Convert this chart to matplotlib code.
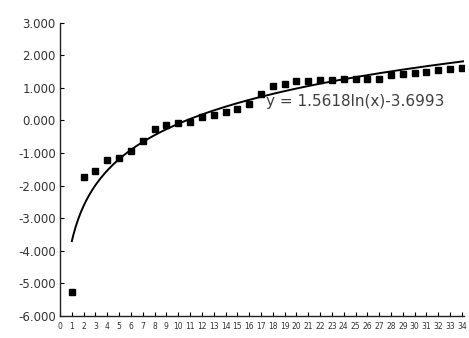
import numpy as np
import matplotlib
matplotlib.use("Agg")
import matplotlib.pyplot as plt

x_vals = list(range(1, 35))
y_vals = [-5.25, -1.72, -1.55, -1.2, -1.15, -0.95, -0.62, -0.26, -0.15, -0.08,
          -0.05, 0.1, 0.17, 0.25, 0.35, 0.5, 0.82, 1.05, 1.13, 1.2,
          1.22, 1.23, 1.25, 1.27, 1.26, 1.26, 1.27, 1.4, 1.43, 1.47,
          1.5, 1.56, 1.58, 1.6]
fit_a = 1.5618
fit_b = -3.6993
y_ticks = [-6, -5, -4, -3, -2, -1, 0, 1, 2, 3]
y_ticklabels = ["-6.000", "-5.000", "-4.000", "-3.000", "-2.000",
                "-1.000", "0.000", "1.000", "2.000", "3.000"]
x_ticks = list(range(0, 35))

fig = plt.figure(figsize=(4.69, 3.38), dpi=100)
ax = fig.add_axes([0.128, 0.065, 0.862, 0.868])

ax.plot(x_vals, y_vals, linestyle="none", marker="s", markersize=5,
        color="black")
xs = np.linspace(1, 34.1, 300)
ax.plot(xs, fit_a * np.log(xs) + fit_b, color="black", linewidth=1.4)

ax.text(25.0, 0.57, "y = 1.5618ln(x)-3.6993", ha="center", va="center",
        fontsize=11, color="#404040")

ax.set_xlim(0, 34.2)
ax.set_ylim(-6, 3)
ax.set_xticks(x_ticks)
ax.set_xticklabels([str(v) for v in x_ticks], fontsize=5.5, color="#333333")
ax.set_yticks(y_ticks)
ax.set_yticklabels(y_ticklabels, fontsize=8.5, color="#333333")
ax.tick_params(axis="both", direction="in", length=3, width=0.8, pad=3)
ax.tick_params(axis="x", pad=4)

for s in ["top", "right"]:
    ax.spines[s].set_visible(False)
for s in ["left", "bottom"]:
    ax.spines[s].set_linewidth(1.0)
    ax.spines[s].set_color("#222222")

fig.savefig("out.png", dpi=100)
